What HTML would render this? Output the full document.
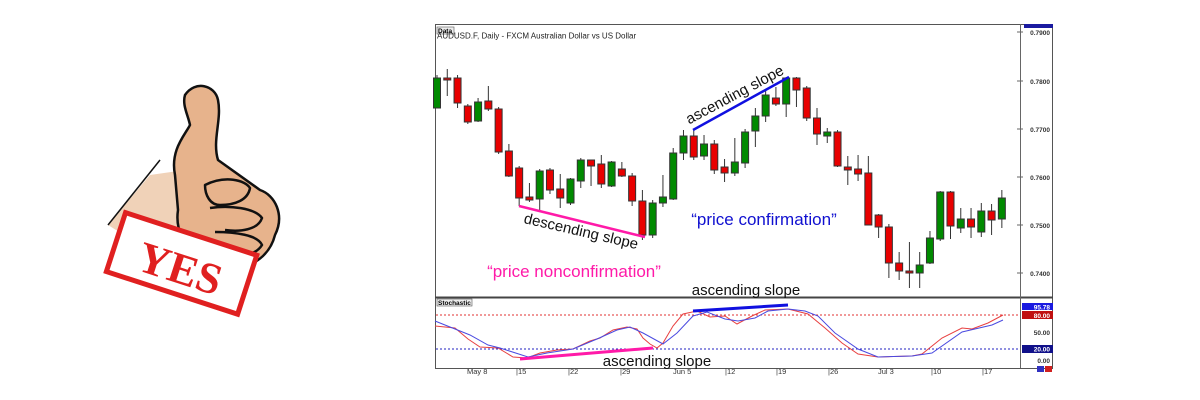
<!DOCTYPE html>
<html><head><meta charset="utf-8"><style>
html,body{margin:0;padding:0;background:#fff;width:1200px;height:400px;overflow:hidden}
svg{display:block}
text{font-family:"Liberation Sans",sans-serif}
</style></head><body>
<svg width="1200" height="400" viewBox="0 0 1200 400">
<!-- thumb -->
<g stroke="#111" stroke-width="2.5" stroke-linejoin="round">
<path d="M108,225 L150,175 L185,170 L180,235 L140,245 Z" fill="#f0d2b8" stroke="none"/>
<path d="M108,225 L160,160" fill="none" stroke-width="1.5"/>
<path d="M185,95 C195,80 215,85 218,100 C222,120 212,140 218,160 L260,190 C275,195 285,215 275,235 C270,255 255,265 235,270 L200,255 C185,250 175,230 178,210 L175,175 C170,150 185,135 190,125 C188,115 182,105 185,95 Z" fill="#e7b38c"/>
<path d="M205,185 C225,175 245,180 250,188 C248,200 235,205 220,205 C210,205 205,195 205,185 Z" fill="#e7b38c"/>
<path d="M210,208 C230,205 255,208 262,218 C258,230 240,232 225,230" fill="#e7b38c"/>
<path d="M215,232 C235,232 258,235 262,245 C256,255 240,258 228,255" fill="#e7b38c"/>
<path d="M220,256 C235,258 250,262 250,270" fill="none"/>
</g>
<g transform="rotate(18 180 265)">
<rect x="112" y="232" width="138" height="62" fill="#fff" stroke="#e02020" stroke-width="5"/>
<text x="181" y="283" text-anchor="middle" font-weight="bold" font-size="44" fill="#e02020" style="font-family:'Liberation Serif',serif">YES</text>
</g>

<!-- chart frame -->
<rect x="435.5" y="24.5" width="617" height="344" fill="#fff" stroke="#555" stroke-width="1"/>
<line x1="435" y1="297.5" x2="1053" y2="297.5" stroke="#444" stroke-width="2"/>
<line x1="1020.5" y1="24" x2="1020.5" y2="368" stroke="#666"/>
<rect x="1024" y="24" width="29" height="4" fill="#1a1aa0"/>
<rect x="437" y="27" width="17" height="7" fill="#eee" stroke="#555" stroke-width="0.6"/>
<text x="438" y="33" font-size="6.5" font-weight="bold">Data</text>
<text x="437" y="38.5" font-size="8" fill="#222">AUDUSD.F, Daily - FXCM Australian Dollar vs US Dollar</text>
<g font-size="6.5" font-weight="bold" fill="#333" text-anchor="end">
<text x="1050" y="35">0.7900</text><text x="1050" y="84">0.7800</text><text x="1050" y="132">0.7700</text>
<text x="1050" y="180">0.7600</text><text x="1050" y="228">0.7500</text><text x="1050" y="276">0.7400</text>
</g>
<g stroke="#666">
<line x1="1017" y1="32" x2="1023" y2="32"/><line x1="1017" y1="81" x2="1023" y2="81"/><line x1="1017" y1="129" x2="1023" y2="129"/>
<line x1="1017" y1="177" x2="1023" y2="177"/><line x1="1017" y1="225" x2="1023" y2="225"/><line x1="1017" y1="273" x2="1023" y2="273"/>
</g>
<!-- candles -->
<g id="c" stroke="#333" stroke-width="1"></g>
<!-- main annotations -->
<line x1="519" y1="206" x2="645" y2="237" stroke="#ff1aa8" stroke-width="2.5"/>
<line x1="693" y1="130" x2="789" y2="77" stroke="#1010e0" stroke-width="2.5"/>
<text transform="translate(580,236) rotate(13)" text-anchor="middle" font-size="15" fill="#111">descending slope</text>
<text transform="translate(737,99) rotate(-28)" text-anchor="middle" font-size="15" fill="#111">ascending slope</text>
<text x="764" y="225" text-anchor="middle" font-size="17" fill="#1010d0">“price confirmation”</text>
<text x="574" y="277" text-anchor="middle" font-size="17" fill="#ff1aa8">“price nonconfirmation”</text>
<text x="746" y="295" text-anchor="middle" font-size="15" fill="#111">ascending slope</text>

<!-- stochastic -->
<rect x="437" y="299" width="35" height="7" fill="#eee" stroke="#555" stroke-width="0.6"/>
<text x="438" y="305" font-size="6.5" font-weight="bold">Stochastic</text>
<line x1="436" y1="315" x2="1020" y2="315" stroke="#e03030" stroke-dasharray="2,2"/>
<line x1="436" y1="349" x2="1020" y2="349" stroke="#2020c0" stroke-dasharray="2,2"/>
<g fill="none" stroke-width="1">
<polyline stroke="#e84040" points="435,326 455,328 468,339 480,347 498,348 513,357 527,358 540,353 557,350 573,349 590,341 600,338 613,330 627,327 637,329 643,338 650,344 657,348 663,343 673,326 683,314 697,311 710,317 725,316 737,324 752,316 765,310 788,309 808,314 825,328 842,343 858,354 878,357 912,356 922,354 942,338 962,328 972,329 988,323 1003,315"/>
<polyline stroke="#4a4ae0" points="435,321 450,327 470,335 488,345 500,348 528,357 547,353 573,349 597,339 617,330 630,327 643,333 663,344 677,333 693,316 707,312 725,319 738,321 755,318 768,311 788,309 805,311 818,316 835,333 858,349 878,357 912,356 932,353 962,332 992,325 1003,320"/>
<line x1="520" y1="359" x2="653" y2="348" stroke="#ff1aa8" stroke-width="3"/>
<line x1="693" y1="311" x2="788" y2="305" stroke="#1010e0" stroke-width="3"/>
</g>
<text x="657" y="366" text-anchor="middle" font-size="15" fill="#111">ascending slope</text>
<rect x="1022" y="303" width="31" height="7" fill="#1a1ae0"/>
<text x="1050" y="309.5" font-size="6.5" font-weight="bold" fill="#fff" text-anchor="end">95.78</text>
<rect x="1022" y="311" width="31" height="8" fill="#c01010"/>
<text x="1050" y="318" font-size="6.5" font-weight="bold" fill="#fff" text-anchor="end">80.00</text>
<text x="1050" y="335" font-size="6.5" font-weight="bold" fill="#333" text-anchor="end">50.00</text>
<rect x="1022" y="345" width="31" height="8" fill="#10108a"/>
<text x="1050" y="351.5" font-size="6.5" font-weight="bold" fill="#fff" text-anchor="end">20.00</text>
<text x="1050" y="363" font-size="6.5" font-weight="bold" fill="#333" text-anchor="end">0.00</text>
<rect x="1037" y="366" width="7" height="6" fill="#3030c0"/><rect x="1045" y="366" width="7" height="6" fill="#d02020"/>
<g font-size="7.5" fill="#333">
<text x="467" y="374">May 8</text><text x="516" y="374">|15</text><text x="568" y="374">|22</text><text x="620" y="374">|29</text>
<text x="673" y="374">Jun 5</text><text x="725" y="374">|12</text><text x="776" y="374">|19</text><text x="828" y="374">|26</text>
<text x="878" y="374">Jul 3</text><text x="931" y="374">|10</text><text x="982" y="374">|17</text>
</g>
</svg>
<script>
var d=[["g",75,78,108,108],["r",69,78,80,96],["r",75,78,103,108],["r",104,106,122,124],["g",98,102,121,122],["r",86,101,109,111],["r",107,109,152,154],["r",144,151,176,177],["r",166,168,198,206],["r",183,197,200,202],["g",169,171,199,212],["r",168,170,190,194],["r",174,189,198,208],["g",178,179,203,205],["g",158,160,181,188],["r",160,160,166,186],["r",155,164,184,188],["g",161,162,186,187],["r",162,169,176,177],["r",173,176,201,206],["r",190,201,235,240],["g",200,203,235,238],["g",175,197,203,207],["g",148,153,199,200],["g",130,136,153,160],["r",130,136,157,160],["g",135,144,156,160],["r",140,144,170,174],["r",159,167,173,182],["g",138,162,173,176],["g",129,132,163,168],["g",108,116,131,147],["g",90,95,116,122],["r",87,98,104,106],["g",77,78,104,117],["r",77,78,90,107],["r",86,88,118,121],["r",108,118,134,145],["g",128,132,136,143],["r",130,132,166,167],["r",156,167,170,185],["r",155,169,174,181],["r",156,173,225,225],["r",214,215,227,238],["r",224,227,263,278],["r",252,263,271,280],["r",242,271,272,288],["g",252,265,273,288],["g",231,238,263,264],["g",191,192,239,241],["r",191,192,226,239],["g",208,219,228,233],["r",208,219,227,238],["g",203,211,232,237],["r",204,211,220,235],["g",190,198,219,228]];
var s="",g=document.getElementById("c");
d.forEach(function(c,i){var x=437+i*10.27;s+='<line x1="'+x+'" y1="'+c[1]+'" x2="'+x+'" y2="'+c[4]+'"/>';
var h=Math.max(c[3]-c[2],2);s+='<rect x="'+(x-3.5)+'" y="'+c[2]+'" width="7" height="'+h+'" fill="'+(c[0]=="g"?"#008a00":"#e80000")+'"/>';});
g.innerHTML=s;
</script>
</body></html>
